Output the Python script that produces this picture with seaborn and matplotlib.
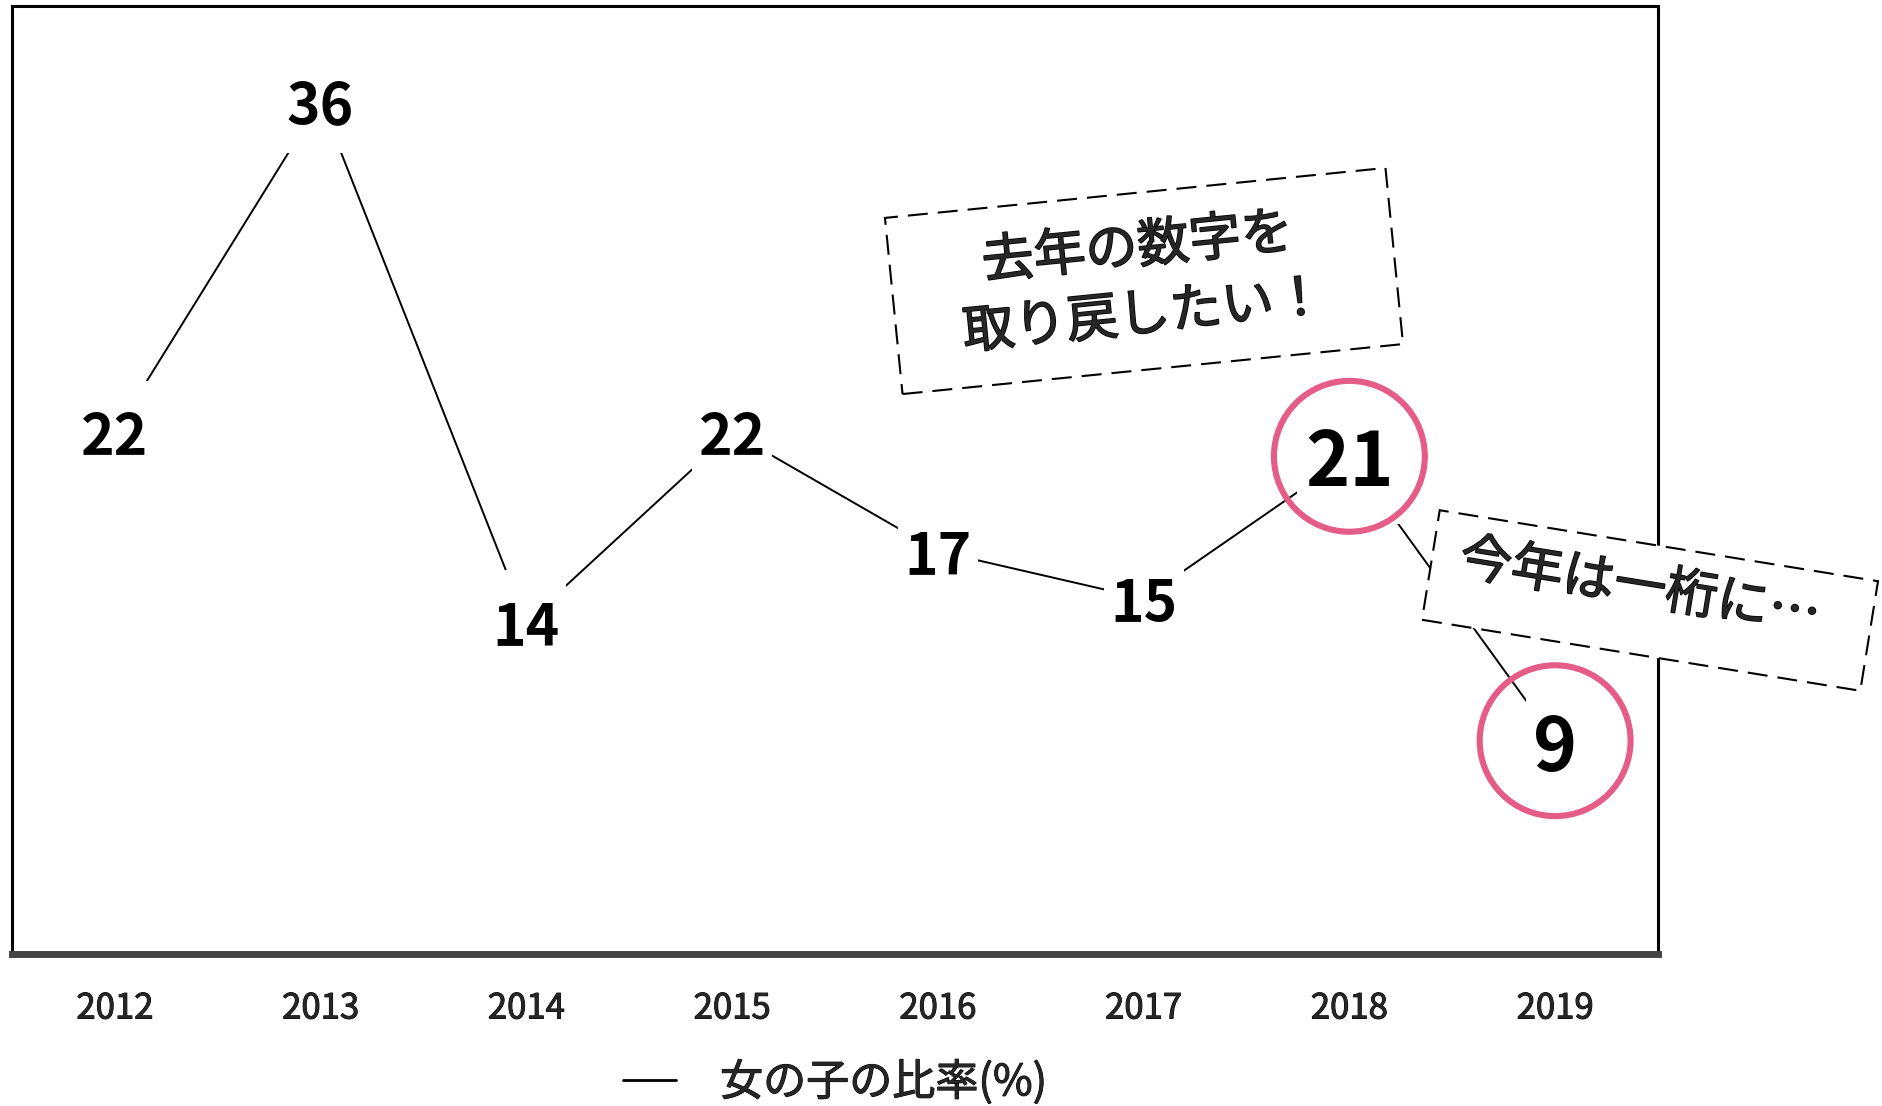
import numpy as np
import pandas as pd
import seaborn as sns
import matplotlib.pyplot as plt
import matplotlib.transforms as mtransforms
import matplotlib.patheffects as pe
from matplotlib.patches import Rectangle

# データ
years = ['2012', '2013', '2014', '2015', '2016', '2017', '2018', '2019']
ratio = [22, 36, 14, 22, 17, 15, 21, 9]
highlight_years = ['2018', '2019']
series_name = '女の子の比率(%)'
note_last_year = '去年の数字を\n取り戻したい！'
note_this_year = '今年は一桁に…'

sns.set_theme(style='white')
plt.rcParams['font.family'] = ['Noto Sans CJK JP', 'DejaVu Sans']

df = pd.DataFrame({'年': years, series_name: ratio})
df['強調'] = df['年'].isin(highlight_years)

fig = plt.figure(figsize=(18.82, 11.06), dpi=100)
ax = fig.add_axes([12 / 1882, 152 / 1106, 1646 / 1882, 948 / 1106])

# 折れ線
sns.lineplot(data=df, x='年', y=series_name, color='black', linewidth=1.4,
             sort=False, label=series_name, ax=ax, zorder=2)

pos = np.arange(len(df))
hl = df['強調'].values
last = pos == len(df) - 1

# ラベルの周りの白い隙間
gap_rect = [(-40, -52), (40, -52), (40, 52), (-40, 52), (-40, -52)]
gap_narrow = [(-29, -68), (29, -68), (29, 68), (-29, 68), (-29, -68)]
ax.scatter(pos[~hl], df[series_name][~hl], marker=gap_rect, s=5600,
           color='white', linewidths=0, zorder=3)
ax.scatter(pos[hl & ~last], df[series_name][hl & ~last],
           marker=gap_rect, s=9500, color='white', linewidths=0, zorder=3)
ax.scatter(pos[last], df[series_name][last], marker=gap_narrow, s=9600,
           color='white', linewidths=0, zorder=3)

# 強調の丸
ax.scatter(pos[hl], df[series_name][hl], marker='o', s=11800,
           facecolors='none', edgecolors='#E55C86', linewidths=4.4, zorder=4)

# 数値ラベル
for i, row in df.iterrows():
    ax.text(i, row[series_name], str(row[series_name]), ha='center', va='center_baseline',
            fontsize=54 if row['強調'] else 41, fontweight='bold', color='black', zorder=5)

ax.set_xlim(-0.5, 7.5)
ax.set_ylim(0, 40)
ax.set_yticks([])
ax.set_xlabel('')
ax.set_ylabel('')
ax.tick_params(axis='x', length=0, pad=27, labelsize=25)
thicken = [pe.withStroke(linewidth=0.7, foreground='black')]
for lab in ax.get_xticklabels():
    lab.set_path_effects(thicken)

for side in ['left', 'top', 'right']:
    ax.spines[side].set_color('black')
    ax.spines[side].set_linewidth(2.2)
ax.spines['bottom'].set_color('#444444')
ax.spines['bottom'].set_linewidth(5)

leg = ax.legend(loc='center', bbox_to_anchor=(0.5, -0.136), frameon=False,
                prop={'size': 31}, handlelength=1.23, handletextpad=1.02)
leg.get_lines()[0].set_linewidth(2)
for t in leg.get_texts():
    t.set_path_effects(thicken)

# 点線の吹き出し
def dashed_note(text, cx, cy, w, h, angle, tx, ty):
    tr = mtransforms.Affine2D().rotate_deg(angle).translate(cx, cy) + fig.dpi_scale_trans
    box = Rectangle((-w / 2, -h / 2), w, h, transform=tr, facecolor='white',
                    edgecolor='black', linewidth=1.5, linestyle=(0, (9.6, 4.8)), zorder=6)
    fig.add_artist(box)
    fig.text(tx, ty, text, transform=fig.dpi_scale_trans, rotation=angle,
             rotation_mode='anchor', ha='center', va='center', fontsize=37.5,
             linespacing=1.35, zorder=7,
             path_effects=[pe.withStroke(linewidth=1.1, foreground='black')])

dashed_note(note_last_year, 11.44, 8.25, 5.03, 1.77, 5.7, 11.41, 8.24)
dashed_note(note_this_year, 16.50, 5.055, 4.44, 1.11, -9.2, 16.40, 5.18)

fig.savefig('out.png', dpi=100)
